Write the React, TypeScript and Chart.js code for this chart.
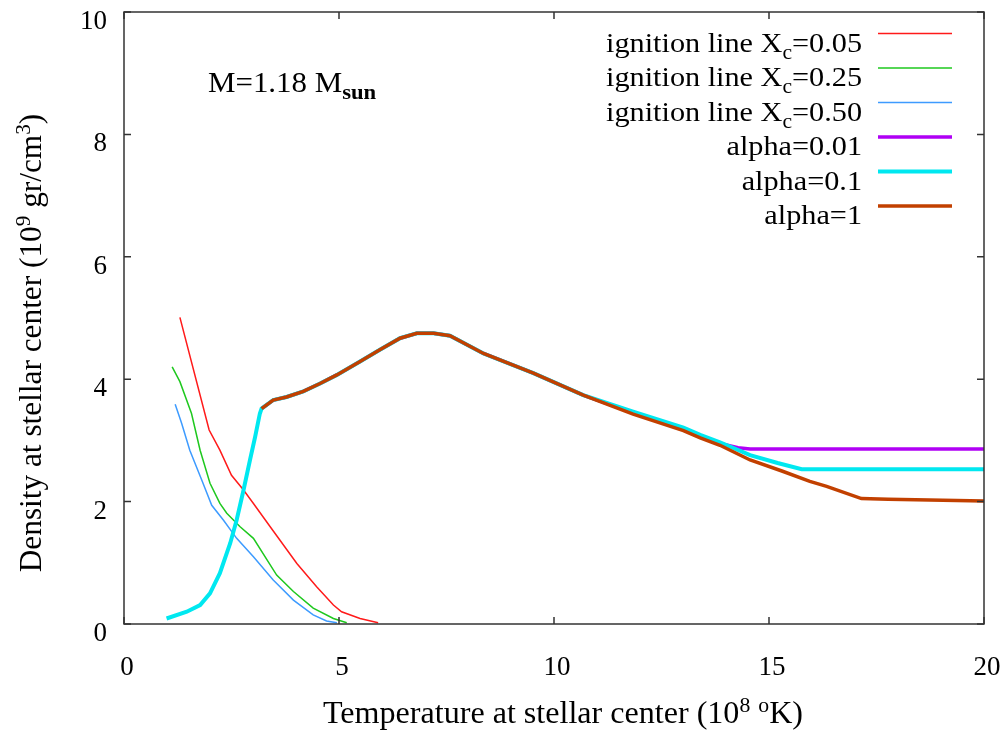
import React, { useEffect, useRef } from "react";
import { Chart, registerables } from "chart.js";

Chart.register(...registerables);

const FONT = '"Liberation Serif", "Times New Roman", Times, serif';

// Axis ticks
const xTicks = [0, 5, 10, 15, 20];
const yTicks = [0, 2, 4, 6, 8, 10];

// Ignition lines (T in 1e8 K, rho in 1e9 g/cm^3)
const ign005T = [1.30, 1.98, 2.23, 2.50, 2.78, 3.01, 3.40, 4.02, 4.48, 4.87, 5.06, 5.49, 5.91];
const ign005Rho = [5.01, 3.17, 2.84, 2.43, 2.19, 1.97, 1.59, 0.99, 0.61, 0.31, 0.20, 0.09, 0.02];

const ign025T = [1.12, 1.30, 1.57, 1.77, 2.00, 2.23, 2.39, 2.70, 3.01, 3.55, 3.94, 4.40, 4.87, 5.18];
const ign025Rho = [4.20, 3.96, 3.44, 2.84, 2.30, 1.97, 1.81, 1.59, 1.40, 0.80, 0.53, 0.26, 0.09, 0.02];

const ign050T = [1.19, 1.34, 1.53, 1.81, 2.04, 2.31, 2.62, 3.01, 3.47, 3.94, 4.40, 4.71, 4.95];
const ign050Rho = [3.59, 3.28, 2.84, 2.35, 1.94, 1.70, 1.40, 1.10, 0.72, 0.39, 0.15, 0.05, 0.02];

// Early evolution (alpha=0.1 curve starts here)
const earlyT = [0.99, 1.46, 1.77, 2.00, 2.23, 2.47, 2.62, 2.78, 2.93, 3.05, 3.16];
const earlyRho = [0.09, 0.20, 0.31, 0.50, 0.83, 1.32, 1.70, 2.19, 2.68, 3.06, 3.44];

// Common track of the alpha curves
const coreT = [3.20, 3.47, 3.78, 4.17, 4.56, 4.95, 5.49, 5.95, 6.42, 6.81, 7.20, 7.58, 8.36, 9.52, 10.68];
const coreRho = [3.52, 3.66, 3.71, 3.80, 3.93, 4.07, 4.29, 4.48, 4.67, 4.75, 4.75, 4.71, 4.42, 4.10, 3.74];

// Tails of each alpha curve
const a001T = [11.84, 13.01, 13.40, 13.86, 14.28, 14.56, 20.0];
const a001Rho = [3.45, 3.18, 3.06, 2.95, 2.88, 2.86, 2.86];

const a01T = [11.84, 13.01, 13.40, 13.86, 14.56, 15.20, 15.76, 20.0];
const a01Rho = [3.47, 3.21, 3.09, 2.97, 2.76, 2.63, 2.53, 2.53];

const a1T = [11.84, 13.01, 13.40, 13.86, 14.56, 15.30, 15.95, 16.34, 17.15, 17.77, 20.0];
const a1Rho = [3.43, 3.16, 3.04, 2.92, 2.68, 2.50, 2.33, 2.25, 2.05, 2.04, 2.01];

const seriesNames = [
  ["ignition line X", "c", "=0.05"],
  ["ignition line X", "c", "=0.25"],
  ["ignition line X", "c", "=0.50"],
  ["alpha=0.01", "", ""],
  ["alpha=0.1", "", ""],
  ["alpha=1", "", ""],
];
const seriesColors = ["#ff1a1a", "#1ec81e", "#3d9bff", "#b000f5", "#00e8f0", "#c24000"];
const seriesWidths = [1.5, 1.5, 1.5, 3.5, 4, 3.5];

function pts(xs: number[], ys: number[]) {
  return xs.map((x, i) => ({ x, y: ys[i] }));
}

type Seg = { t: string; size: number; dy?: number; bold?: boolean };

function fontOf(s: Seg) {
  return `${s.bold ? "bold " : ""}${s.size}px ${FONT}`;
}
function segsWidth(ctx: CanvasRenderingContext2D, segs: Seg[], hs = 1) {
  let w = 0;
  for (const s of segs) {
    ctx.font = fontOf(s);
    w += ctx.measureText(s.t).width;
  }
  return w * hs;
}
function drawSegs(ctx: CanvasRenderingContext2D, segs: Seg[], x: number, y: number, hs = 1) {
  ctx.save();
  ctx.translate(x, y);
  ctx.scale(hs, 1);
  let cx = 0;
  for (const s of segs) {
    ctx.font = fontOf(s);
    ctx.fillText(s.t, cx, s.dy || 0);
    cx += ctx.measureText(s.t).width;
  }
  ctx.restore();
}

const decorPlugin = {
  id: "decor",
  afterDraw(chart: any) {
    const ctx: CanvasRenderingContext2D = chart.ctx;
    const { left, right, top, bottom } = chart.chartArea;
    const xs = chart.scales.x;
    const ys = chart.scales.y;
    ctx.save();
    ctx.textAlign = "left";
    ctx.textBaseline = "alphabetic";
    ctx.fillStyle = "#000";

    // frame
    ctx.strokeStyle = "#333";
    ctx.lineWidth = 1.5;
    ctx.strokeRect(left, top, right - left, bottom - top);
    ctx.beginPath();
    for (const v of xTicks) {
      const px = xs.getPixelForValue(v);
      ctx.moveTo(px, bottom);
      ctx.lineTo(px, bottom - 7);
      ctx.moveTo(px, top);
      ctx.lineTo(px, top + 7);
    }
    for (const v of yTicks) {
      const py = ys.getPixelForValue(v);
      ctx.moveTo(left, py);
      ctx.lineTo(left + 7, py);
      ctx.moveTo(right, py);
      ctx.lineTo(right - 7, py);
    }
    ctx.stroke();

    // tick labels
    ctx.font = `27px ${FONT}`;
    ctx.textAlign = "right";
    for (const v of yTicks) {
      ctx.fillText(String(v), left - 17, ys.getPixelForValue(v) + 17);
    }
    ctx.textAlign = "center";
    for (const v of xTicks) {
      ctx.fillText(String(v), xs.getPixelForValue(v) + 3, bottom + 51);
    }
    ctx.textAlign = "left";

    // x title
    const xTitle: Seg[] = [
      { t: "Temperature at stellar center (10", size: 31 },
      { t: "8", size: 21, dy: -11 },
      { t: " ", size: 31 },
      { t: "o", size: 21, dy: -11 },
      { t: "K)", size: 31 },
    ];
    const xw = segsWidth(ctx, xTitle, 1.035);
    drawSegs(ctx, xTitle, 563 - xw / 2, 723, 1.035);

    // y title (rotated)
    const yTitle: Seg[] = [
      { t: "Density at stellar center (10", size: 31 },
      { t: "9", size: 21, dy: -11 },
      { t: " gr/cm", size: 31 },
      { t: "3", size: 21, dy: -11 },
      { t: ")", size: 31 },
    ];
    const yw = segsWidth(ctx, yTitle, 1.01);
    ctx.save();
    ctx.translate(41, 343);
    ctx.rotate(-Math.PI / 2);
    drawSegs(ctx, yTitle, -yw / 2, 0, 1.01);
    ctx.restore();

    // annotation
    drawSegs(
      ctx,
      [
        { t: "M=1.18 M", size: 30 },
        { t: "sun", size: 22, dy: 7, bold: true },
      ],
      208,
      92,
      1.03
    );

    // legend
    const textRight = 862;
    const lineX0 = 878;
    const lineX1 = 952;
    const hs = 1.08;
    seriesNames.forEach((nm, i) => {
      const ly = 33.5 + i * 34.5;
      const segs: Seg[] = [{ t: nm[0], size: 28 }];
      if (nm[1]) segs.push({ t: nm[1], size: 20, dy: 7 });
      if (nm[2]) segs.push({ t: nm[2], size: 28 });
      const w = segsWidth(ctx, segs, hs);
      drawSegs(ctx, segs, textRight - w, ly + 18, hs);
      ctx.strokeStyle = seriesColors[i];
      ctx.lineWidth = seriesWidths[i];
      ctx.beginPath();
      ctx.moveTo(lineX0, ly);
      ctx.lineTo(lineX1, ly);
      ctx.stroke();
    });

    ctx.restore();
  },
};

export default function App() {
  const ref = useRef<HTMLCanvasElement | null>(null);

  useEffect(() => {
    if (!ref.current) return;
    const seriesData = [
      pts(ign005T, ign005Rho),
      pts(ign025T, ign025Rho),
      pts(ign050T, ign050Rho),
      pts([...coreT, ...a001T], [...coreRho, ...a001Rho]),
      pts([...earlyT, ...coreT, ...a01T], [...earlyRho, ...coreRho, ...a01Rho]),
      pts([...coreT, ...a1T], [...coreRho, ...a1Rho]),
    ];
    const orders = [4, 5, 6, 3, 2, 1];
    const chart = new Chart(ref.current, {
      type: "scatter",
      data: {
        datasets: seriesData.map((d, i) => ({
          label: seriesNames[i].join(""),
          data: d,
          showLine: true,
          borderColor: seriesColors[i],
          backgroundColor: seriesColors[i],
          borderWidth: seriesWidths[i],
          pointRadius: 0,
          pointHoverRadius: 0,
          tension: 0,
          fill: false,
          order: orders[i],
        })),
      },
      options: {
        animation: false,
        responsive: true,
        maintainAspectRatio: false,
        layout: { padding: { left: 124, top: 12, right: 19, bottom: 112 } },
        scales: {
          x: { type: "linear", min: 0, max: 20, display: false },
          y: { type: "linear", min: 0, max: 10, display: false },
        },
        plugins: {
          legend: { display: false },
          tooltip: { enabled: false },
        },
        events: [],
      },
      plugins: [decorPlugin],
    });
    return () => chart.destroy();
  }, []);

  return (
    <div
      style={{
        position: "absolute",
        left: 0,
        top: 0,
        width: 1003,
        height: 736,
        background: "#fff",
      }}
    >
      <canvas ref={ref} />
    </div>
  );
}
